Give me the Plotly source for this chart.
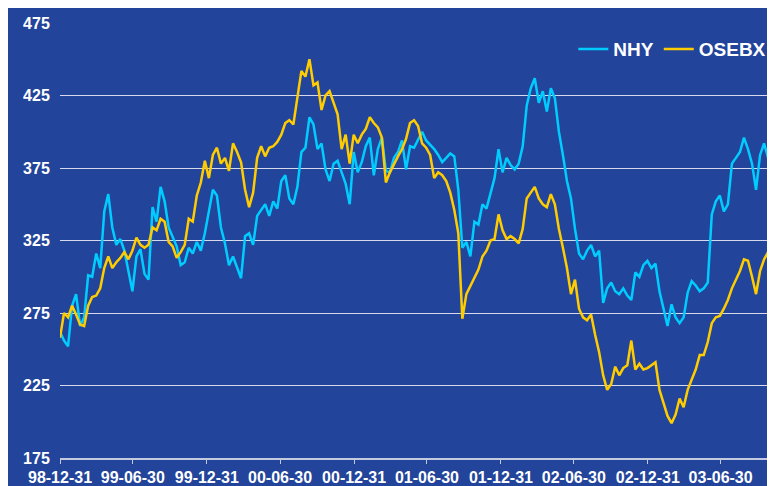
import pandas as pd
import plotly.graph_objects as go

# sampled every 10 days starting 1998-12-31
START = "1998-12-31"
STEP = "10D"

NHY = [
    262, 256, 252, 280, 288, 266, 272, 301, 300, 316,
    306, 345, 357, 334, 322, 326, 318, 305, 290, 314,
    319, 302, 298, 348, 338, 362, 352, 334, 328, 321,
    308, 310, 320, 316, 324, 318,
    330, 345, 360, 356, 334, 323, 308, 314, 306, 299,
    328, 330, 322, 342, 346, 350, 342, 352, 347, 366,
    370, 354, 350, 362, 386, 389, 410, 405, 388, 392,
    374, 366, 378, 380, 372, 364, 350,
    386, 372, 379, 390, 396, 370, 388, 396, 373, 372,
    382, 386, 394, 374, 390, 389, 394, 400, 394, 391,
    388, 384, 379, 382, 385, 383, 360,
    320, 324, 314, 338, 336, 350, 347, 358, 368,
    388, 372, 382, 377, 374, 378, 390, 418, 430, 437,
    420, 428, 414, 430, 423, 400, 384, 366, 354, 333,
    316, 312, 318, 322, 314, 318, 282, 292, 296, 290,
    288, 292, 287, 284, 303,
    300, 308, 311, 306, 309, 290, 278, 266, 281, 272,
    268, 272, 289, 297, 294, 290, 292, 296, 343, 352,
    356, 345, 350, 378, 382, 386, 396, 388, 378, 360,
    384, 392, 382, 408, 390, 396, 393,
]

OSEBX = [
    258, 275, 272, 280, 274, 267, 266, 280, 286, 287,
    292, 306, 314, 306, 310, 313, 317, 312, 318, 327,
    322, 320, 322, 334, 332, 340, 338, 324, 321, 313,
    317, 322, 340, 338, 356, 365,
    380, 368, 384, 389, 378, 382, 373, 392, 386, 379,
    360, 348, 358, 382, 390, 383, 389, 390, 393, 398,
    406, 408, 405, 423, 442, 438, 450, 432, 434, 415,
    425, 428, 420, 412, 388, 398, 378,
    398, 392, 398, 402, 410, 406, 403, 396, 365, 372,
    378, 383, 388, 395, 406, 408, 404, 392, 389, 384,
    368, 372, 370, 366, 358, 346, 330,
    271, 288, 294, 300, 305, 314, 318, 325, 326,
    343, 332, 326, 328, 326, 323, 333, 354, 358, 362,
    354, 350, 348, 357, 350, 333, 320, 306, 288, 298,
    278, 272, 270, 274, 260, 248, 232, 222, 226, 238,
    232, 237, 239, 256, 236,
    240, 236, 237, 239, 241, 222, 213, 204, 199, 205,
    216, 210, 222, 229, 236, 246, 246, 255, 268, 272,
    273, 278, 284, 292, 298, 304, 312, 311, 300, 288,
    304, 312, 317, 331, 321, 329, 330,
]

TICK_DATES = [
    "1998-12-31", "1999-06-30", "1999-12-31", "2000-06-30", "2000-12-31",
    "2001-06-30", "2001-12-31", "2002-06-30", "2002-12-31", "2003-06-30",
]
TICK_LABELS = [
    "98-12-31", "99-06-30", "99-12-31", "00-06-30", "00-12-31",
    "01-06-30", "01-12-31", "02-06-30", "02-12-31", "03-06-30",
]
Y_TICKS = [175, 225, 275, 325, 375, 425, 475]

BG = "#22449A"
FONT = "Liberation Sans, Arial, sans-serif"

dates = pd.date_range(START, periods=len(NHY), freq=STEP)

fig = go.Figure()
fig.add_trace(
    go.Scatter(x=dates, y=NHY, mode="lines", name="NHY",
               line=dict(color="#00CCFF", width=2.5))
)
fig.add_trace(
    go.Scatter(x=dates, y=OSEBX, mode="lines", name="OSEBX",
               line=dict(color="#FFCC00", width=2.5))
)

fig.update_layout(
    width=775,
    height=486,
    margin=dict(l=52, r=0, t=15, b=36),
    paper_bgcolor=BG,
    plot_bgcolor=BG,
    font=dict(family=FONT, color="white", size=16, weight="bold"),
    showlegend=True,
    legend=dict(
        orientation="h",
        xanchor="left",
        x=0.71,
        yanchor="middle",
        y=0.94,
        bgcolor="rgba(0,0,0,0)",
        font=dict(size=19, color="white", weight="bold"),
        itemwidth=30,
        tracegroupgap=0,
    ),
)
fig.update_xaxes(
    type="date",
    range=["1998-12-31", "2003-12-02"],
    tickvals=TICK_DATES,
    ticktext=TICK_LABELS,
    showgrid=False,
    zeroline=False,
    showline=True,
    linecolor="#C4CAE0",
    linewidth=1.5,
    ticks="outside",
    ticklen=4,
    tickcolor="#C4CAE0",
    tickfont=dict(size=16, color="white", weight="bold"),
)
fig.update_yaxes(
    range=[175, 475],
    tickvals=Y_TICKS,
    showgrid=True,
    gridcolor="#D6DAEA",
    gridwidth=1,
    zeroline=False,
    showline=False,
    ticks="outside",
    ticklen=6,
    tickcolor=BG,
    tickfont=dict(size=16, color="white", weight="bold"),
)

fig.write_html("out.html")
